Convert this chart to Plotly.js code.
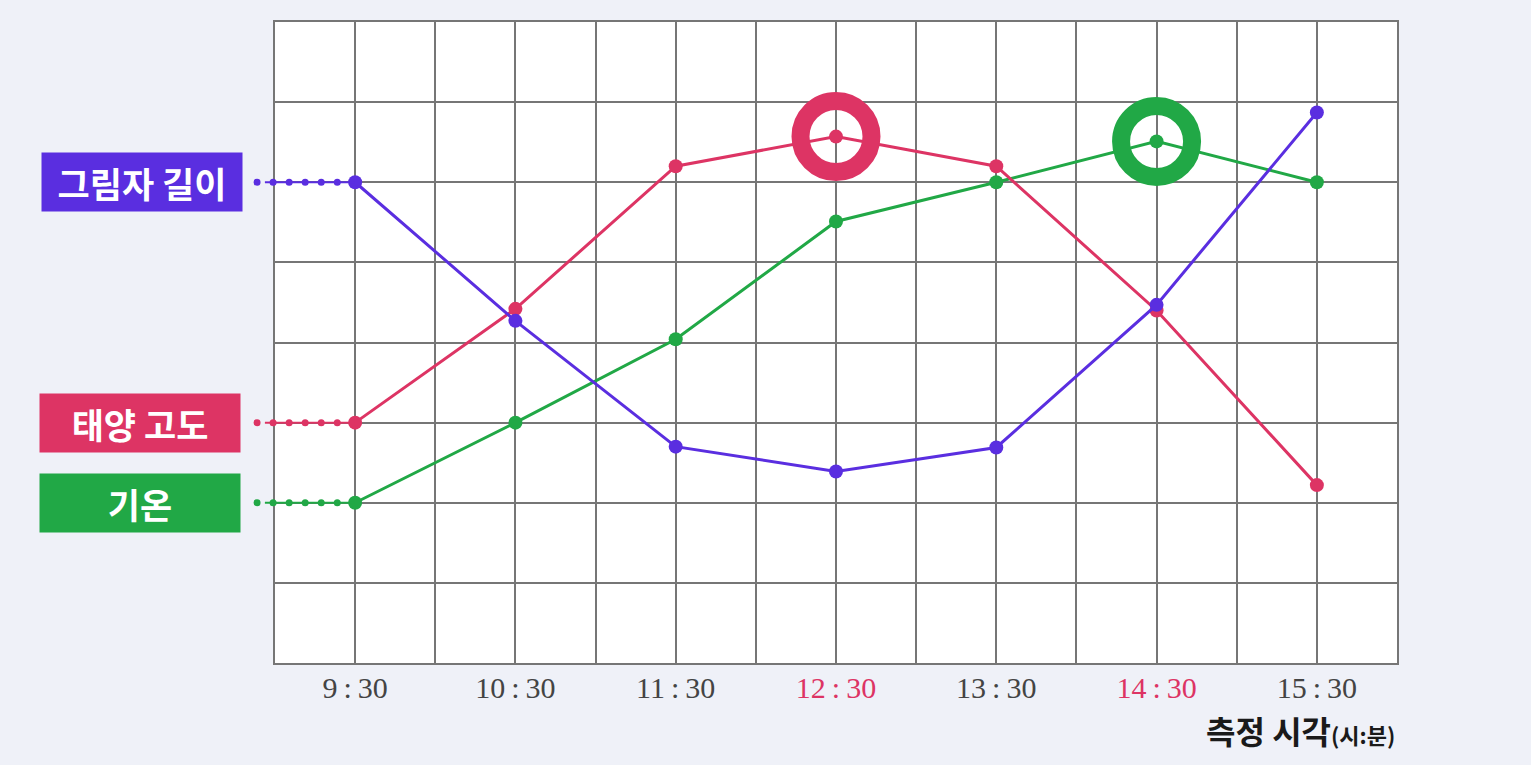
<!DOCTYPE html>
<html>
<head>
<meta charset="utf-8">
<script src="https://cdn.plot.ly/plotly-3.0.1.min.js"></script>
<style>
  html, body { margin: 0; padding: 0; background: #eff1f8; }
  #chart { width: 1531px; height: 765px; }
</style>
</head>
<body>
<div id="chart"></div>
<script>
// ---- data ----
const times = ['9:30', '10:30', '11:30', '12:30', '13:30', '14:30', '15:30'];
const highlightTimes = ['12:30', '14:30'];
const shadowLength = [6.0, 4.27, 2.7, 2.39, 2.69, 4.47, 6.87];   // 그림자 길이
const sunAltitude  = [3.0, 4.42, 6.2, 6.57, 6.2, 4.4, 2.22];      // 태양 고도
const temperature  = [2.0, 3.0, 4.04, 5.51, 6.0, 6.51, 6.0];       // 기온
const seriesNames = ['그림자 길이', '태양 고도', '기온'];
const xLabel = '측정 시각';
const xUnit = '(시:분)';

// ---- styles ----
const colors = ['#5a2ee0', '#dd3464', '#21a846'];
const gridColor = '#767676';
const yMax = 8;
const xs = times.map((t, i) => i);

const series = [shadowLength, sunAltitude, temperature];
const traces = [];
const shapes = [];

// leader dots (decorative shapes, paper coords so they can sit left of the plot)
series.forEach((s, k) => {
  const yp = s[0] / yMax;
  shapes.push({
    type: 'line', xref: 'paper', yref: 'paper', x0: -0.009, x1: 0.0713, y0: yp, y1: yp,
    line: { color: colors[k], width: 2 }, layer: 'above'
  });
  for (let j = 0; j < 6; j++) {
    const cx = -0.0160 + j * 0.0143;
    shapes.push({
      type: 'circle', xref: 'paper', yref: 'paper', xsizemode: 'pixel', ysizemode: 'pixel',
      xanchor: cx, yanchor: yp, x0: -3.5, x1: 3.5, y0: -3.5, y1: 3.5,
      fillcolor: colors[k], line: { width: 0 }, layer: 'above'
    });
  }
});

// main lines
[2, 1, 0].forEach(k => {
  traces.push({
    x: xs, y: series[k], mode: 'lines+markers', type: 'scatter', name: seriesNames[k],
    line: { color: colors[k], width: 3 },
    marker: { color: colors[k], size: 14 },
    cliponaxis: false, showlegend: false
  });
});

// highlight rings: max sun altitude and max temperature
const iSun = sunAltitude.indexOf(Math.max(...sunAltitude));
const iTemp = temperature.indexOf(Math.max(...temperature));
traces.push({
  x: [xs[iSun]], y: [sunAltitude[iSun]], mode: 'markers', type: 'scatter',
  marker: { symbol: 'circle-open', size: 71, color: colors[1], line: { width: 18, color: colors[1] } },
  cliponaxis: false, hoverinfo: 'skip', showlegend: false
});
traces.push({
  x: [xs[iTemp]], y: [temperature[iTemp]], mode: 'markers', type: 'scatter',
  marker: { symbol: 'circle-open', size: 71, color: colors[2], line: { width: 18, color: colors[2] } },
  cliponaxis: false, hoverinfo: 'skip', showlegend: false
});

// x ticks on every half unit (grid), labels only on data times
const tickvals = [], ticktext = [];
for (let v = -0.5; v <= 6.5 + 1e-9; v += 0.5) {
  tickvals.push(v);
  const idx = Math.round(v);
  if (Math.abs(v - idx) < 1e-9 && idx >= 0 && idx < times.length) {
    const t = times[idx].replace(':', '\u2009:\u2009');
    ticktext.push(highlightTimes.includes(times[idx])
      ? '<span style="color:#dd3464">' + t + '</span>' : t);
  } else ticktext.push('');
}

const boxX = [-0.1185, -0.1199, -0.1199];
const annotations = series.map((s, k) => ({
  xref: 'paper', yref: 'y', x: boxX[k], y: s[0],
  text: '<b>' + seriesNames[k] + '</b>', showarrow: false,
  font: { family: 'Noto Sans CJK KR', size: 35, color: '#ffffff', weight: 900 },
  bgcolor: colors[k], width: 200, height: 58, borderpad: 0,
  xanchor: 'center', yanchor: 'middle'
}));
annotations.push({
  xref: 'paper', yref: 'paper', x: 1.0, y: -0.104, xanchor: 'right', yanchor: 'middle',
  text: '<b>' + xLabel + '</b><span style="font-size:22px"><b>' + xUnit + '</b></span>',
  showarrow: false, font: { family: 'Noto Sans CJK KR', size: 32, color: '#1a1a1a', weight: 900 }
});

const layout = {
  width: 1531, height: 765,
  margin: { l: 275, r: 134, t: 22, b: 102 },
  paper_bgcolor: '#eff1f8', plot_bgcolor: '#ffffff',
  showlegend: false,
  xaxis: {
    range: [-0.5, 6.5], tickvals: tickvals, ticktext: ticktext,
    showgrid: true, gridcolor: gridColor, gridwidth: 2,
    showline: true, linecolor: gridColor, linewidth: 2, mirror: true,
    zeroline: false, ticks: '', ticklabelstandoff: -3,
    tickfont: { family: 'Liberation Serif', size: 30, color: '#444444' }
  },
  yaxis: {
    range: [0, yMax], dtick: 1, tick0: 0,
    showgrid: true, gridcolor: gridColor, gridwidth: 2,
    showline: true, linecolor: gridColor, linewidth: 2, mirror: true,
    zeroline: false, ticks: '', showticklabels: false
  },
  shapes: shapes,
  annotations: annotations
};

Plotly.newPlot('chart', traces, layout, { displayModeBar: false, staticPlot: true });
</script>
</body>
</html>
